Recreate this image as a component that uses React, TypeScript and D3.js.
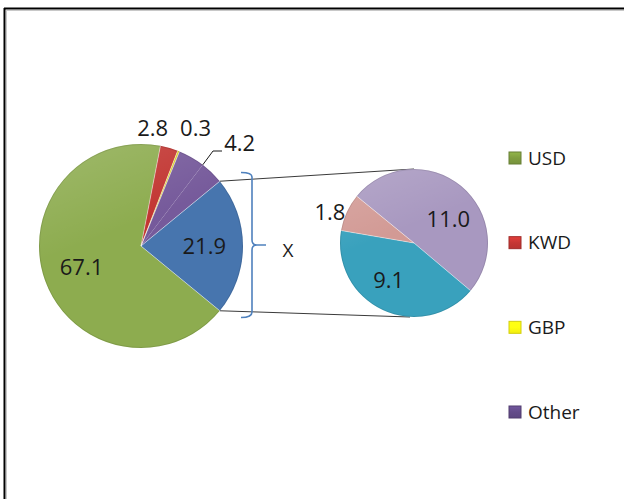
import React from "react";
import * as d3 from "d3";

// Main pie: currency shares (percent). The last slice "X" is split out into the detail pie.
const mainCategories = ["USD", "KWD", "GBP", "Other", "Other (unlisted)", "X"];
const mainValues = [67.1, 2.8, 0.3, 4.2, 3.7, 21.9];
const mainShowLabel = [true, true, true, true, false, true];

// Detail pie: breakdown of "X"
const detailCategories = ["X-1", "X-2", "X-3"];
const detailValues = [11.0, 9.1, 1.8];

// Legend entries
const legendCategories = ["USD", "KWD", "GBP", "Other"];

// ---- styling / layout ----
const W = 624;
const H = 499;
const FONT = "'Open Sans', 'Noto Sans', sans-serif";

const mainColors = ["#9dbf58", "#d83c38", "#f2e41c", "#8364ac", "#8364ac", "#4f82c2"];
const detailColors = ["#bba9d6", "#3fb3d2", "#eaaba6"];
const legendColors = ["#77933c", "#b83330", "#f2ee10", "#5c4680"];

const main = { cx: 141, cy: 246, r: 102 };
const detail = { cx: 414, cy: 243, r: 74 };

// "in" labels use the inner centroid, "out" labels sit just beyond the rim and are nudged
const mainLabelMode = ["in", "out", "out", "out", "none", "in"];
const mainLabelNudge: [number, number][] = [[0, 0], [-21, -4], [11, -8], [40, 0], [0, 0], [0, 0]];
const detailLabelMode = ["in", "in", "out"];
const detailLabelNudge: [number, number][] = [[5, 11], [-6, -4], [-6, 5]];

function shade(c: string, k: number) {
  const col = d3.rgb(c);
  return k >= 0 ? col.brighter(k).formatHex() : col.darker(-k).formatHex();
}

function polar(cx: number, cy: number, a: number, rad: number): [number, number] {
  return [cx + rad * Math.sin(a), cy - rad * Math.cos(a)];
}

function PieGroup({ id, geo, values, colors, arcs, modes, nudges, fs, showLabel }: any) {
  const arcGen = d3.arc<any>().innerRadius(0).outerRadius(geo.r);
  const inner = d3.arc<any>().innerRadius(geo.r * 0.62).outerRadius(geo.r * 0.62);
  const outer = d3.arc<any>().innerRadius(geo.r * 1.16).outerRadius(geo.r * 1.16);
  return (
    <g>
      <defs>
        {arcs.map((a: any, i: number) => (
          <radialGradient key={i} id={`${id}-g${i}`} gradientUnits="userSpaceOnUse"
            cx={geo.cx} cy={geo.cy} r={geo.r}>
            <stop offset="0" stopColor={shade(colors[i], 0.1)} />
            <stop offset="0.88" stopColor={colors[i]} />
            <stop offset="1" stopColor={shade(colors[i], -0.3)} />
          </radialGradient>
        ))}
        <linearGradient id={`${id}-hl`} x1="0" y1="0" x2="0.4" y2="1">
          <stop offset="0" stopColor="#ffffff" stopOpacity="0.16" />
          <stop offset="0.5" stopColor="#ffffff" stopOpacity="0" />
        </linearGradient>
      </defs>
      <g transform={`translate(${geo.cx},${geo.cy})`}>
        {arcs.map((a: any, i: number) => (
          <path key={i} d={arcGen(a) as string} fill={`url(#${id}-g${i})`} />
        ))}
        {arcs.map((a: any, i: number) => {
          const prev = arcs[(i - 1 + arcs.length) % arcs.length];
          if (colors[prev.index] === colors[a.index]) return null;
          const [x, y] = polar(0, 0, a.startAngle, geo.r);
          return <line key={`s${i}`} x1={0} y1={0} x2={x} y2={y}
            stroke="#ffffff" strokeOpacity={0.45} strokeWidth={1} />;
        })}
        <circle r={geo.r} fill={`url(#${id}-hl)`} />
        <circle r={geo.r - 0.5} fill="none" stroke="#000" strokeOpacity={0.1} />
      </g>
      {arcs.map((a: any, i: number) => {
        const mode = modes[i];
        if (mode === "none" || (showLabel && !showLabel[i])) return null;
        const c = mode === "in" ? inner.centroid(a) : outer.centroid(a);
        const x = geo.cx + c[0] + nudges[i][0];
        const y = geo.cy + c[1] + nudges[i][1];
        return (
          <text key={`t${i}`} x={x} y={y + fs * 0.357} textAnchor="middle"
            fontFamily={FONT} fontSize={fs} fill="#1a1a1a">
            {values[i].toFixed(1)}
          </text>
        );
      })}
    </g>
  );
}

export default function App() {
  // main pie: the split slice "X" is centred on 3 o'clock
  const total = d3.sum(mainValues);
  const xIdx = mainValues.length - 1;
  const xSweep = (mainValues[xIdx] / total) * 2 * Math.PI;
  const mainEnd = Math.PI / 2 + xSweep / 2;
  const mainArcs = d3.pie<number>().sort(null).value((d) => d)
    .startAngle(mainEnd - 2 * Math.PI).endAngle(mainEnd)(mainValues);

  const detailStart = (-50.7 * Math.PI) / 180;
  const detailArcs = d3.pie<number>().sort(null).value((d) => d)
    .startAngle(detailStart).endAngle(detailStart + 2 * Math.PI)(detailValues);

  const xArc = mainArcs[xIdx];
  const pTop = polar(main.cx, main.cy, xArc.startAngle, main.r);
  const pBot = polar(main.cx, main.cy, xArc.endAngle, main.r);

  // leader for the "Other" label
  const otherArc = mainArcs[3];
  const lStart = polar(main.cx, main.cy, otherArc.endAngle, main.r);

  const legendY = d3.scalePoint<string>().domain(legendCategories).range([158, 412]);

  return (
    <svg width={W} height={H} style={{ position: "absolute", left: 0, top: 0 }}>
      <rect x={0} y={0} width={W} height={H} fill="#ffffff" />
      {/* frame */}
      <line x1={4} y1={8.5} x2={W} y2={8.5} stroke="#000" strokeWidth={2} />
      <line x1={4.5} y1={8} x2={4.5} y2={H} stroke="#000" strokeWidth={2} />
      <line x1={6} y1={10.5} x2={W} y2={10.5} stroke="#c8c8c8" strokeWidth={1} />
      <line x1={6.5} y1={10} x2={6.5} y2={H} stroke="#c8c8c8" strokeWidth={1} />

      {/* connectors between the split slice and the detail pie */}
      <line x1={pTop[0]} y1={pTop[1]} x2={detail.cx} y2={detail.cy - detail.r}
        stroke="#3a3a3a" strokeWidth={1} />
      <line x1={pBot[0]} y1={pBot[1]} x2={detail.cx - 4} y2={detail.cy + detail.r}
        stroke="#3a3a3a" strokeWidth={1} />

      <PieGroup id="main" geo={main} values={mainValues} colors={mainColors} arcs={mainArcs}
        modes={mainLabelMode} nudges={mainLabelNudge} fs={22} showLabel={mainShowLabel} />
      <PieGroup id="detail" geo={detail} values={detailValues} colors={detailColors} arcs={detailArcs}
        modes={detailLabelMode} nudges={detailLabelNudge} fs={22} />

      {/* leader line for "Other" */}
      <polyline points={`${lStart[0]},${lStart[1]} 213,151 222,151`} fill="none"
        stroke="#1a1a1a" strokeWidth={1} />

      {/* brace marking the split slice */}
      <path d="M241,172.5 Q252,172.5 252,177 L252,240 Q252,245 257,245 L266,245 M257,245 Q252,245 252,250 L252,312 Q252,317.5 241,317.5"
        fill="none" stroke="#4f81bd" strokeWidth={1.6} />
      <text x={288} y={250 + 19 * 0.357} textAnchor="middle" fontFamily={FONT}
        fontSize={19} fill="#1a1a1a">X</text>

      {/* legend */}
      <defs>
        {legendColors.map((c, i) => (
          <linearGradient key={i} id={`lg${i}`} x1="0" y1="0" x2="0" y2="1">
            <stop offset="0" stopColor={shade(c, 0.6)} />
            <stop offset="0.5" stopColor={shade(c, 0.2)} />
            <stop offset="1" stopColor={c} />
          </linearGradient>
        ))}
      </defs>
      {legendCategories.map((name, i) => {
        const y = legendY(name) as number;
        return (
          <g key={name}>
            <rect x={509} y={y - 6} width={12} height={12} fill={`url(#lg${i})`}
              stroke={shade(legendColors[i], -0.4)} strokeWidth={1} />
            <text x={528} y={y + 19 * 0.357} fontFamily={FONT} fontSize={19} fill="#1a1a1a">
              {name}
            </text>
          </g>
        );
      })}
    </svg>
  );
}
